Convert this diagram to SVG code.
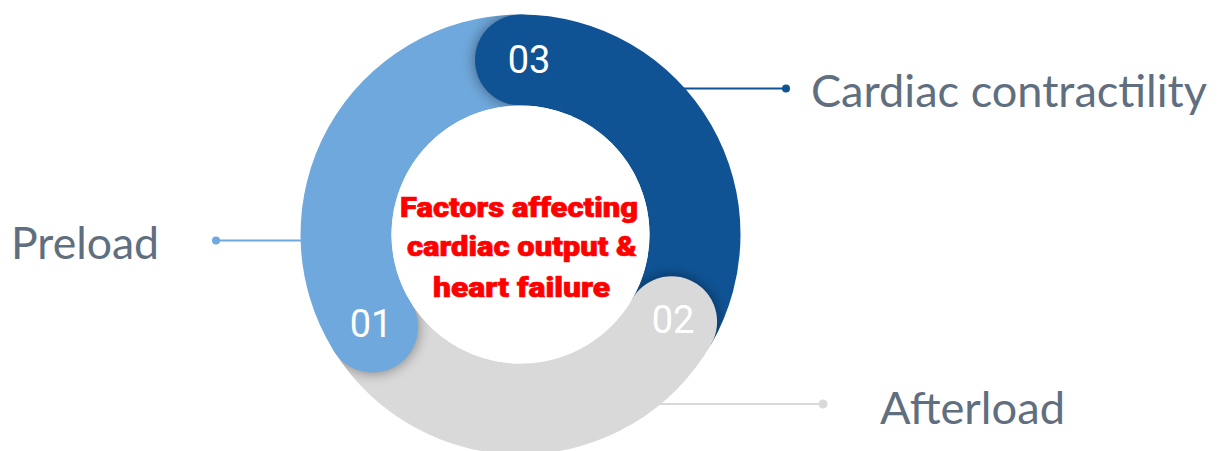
<svg xmlns="http://www.w3.org/2000/svg" width="1225" height="451" viewBox="0 0 1225 451">
  <style>
    .label { font-family: "Lato", "Open Sans", sans-serif; font-size: 45px; fill: #5f6f80; }
    .num { font-family: "Roboto", "Liberation Sans", sans-serif; font-size: 38px; fill: #ffffff; text-anchor: middle; }
    .title { font-family: "Roboto", "Liberation Sans", sans-serif; font-weight: 900; font-size: 27.5px; fill: #ff0000; stroke: #ff0000; stroke-width: 0.7px; text-anchor: middle; }
    .c-light { fill: #6fa8dc; }
    .c-dark { fill: #0f5394; }
    .c-gray { fill: #d9d9d9; }
  </style>
  <defs>
    <!-- ring sectors, centre (520.5, 234.5), outer r 220, inner r 129 -->
    <path id="band-01" d="M 333.95 351.06 A 220 220 0 0 1 520.5 14.5 L 520.5 105.5 A 129 129 0 0 0 411.10 302.86 Z"/>
    <path id="band-03" d="M 520.5 14.5 A 220 220 0 0 1 711.03 344.5 L 632.22 299 A 129 129 0 0 0 520.5 105.5 Z"/>
    <path id="band-02" d="M 711.03 344.5 A 220 220 0 0 1 333.95 351.06 L 411.10 302.86 A 129 129 0 0 0 632.22 299 Z"/>
    <clipPath id="clip-01"><use href="#band-01"/></clipPath>
    <clipPath id="clip-02"><use href="#band-02"/></clipPath>
    <clipPath id="clip-03"><use href="#band-03"/></clipPath>
    <filter id="soft-shadow" x="-50%" y="-50%" width="200%" height="200%">
      <feGaussianBlur in="SourceAlpha" stdDeviation="7"/>
      <feComponentTransfer><feFuncA type="linear" slope="0.45"/></feComponentTransfer>
    </filter>
  </defs>

  <!-- connectors -->
  <g id="connectors" stroke-width="2">
    <line x1="216" y1="240.5" x2="330" y2="240.5" stroke="#6fa8dc"/>
    <circle cx="216" cy="240.5" r="4" fill="#6fa8dc"/>
    <line x1="640" y1="88.5" x2="786" y2="88.5" stroke="#0f5394"/>
    <circle cx="786" cy="88.5" r="4" fill="#0f5394"/>
    <line x1="630" y1="404" x2="823" y2="404" stroke="#d9d9d9"/>
    <circle cx="823" cy="404" r="4.5" fill="#d9d9d9"/>
  </g>

  <!-- ring bands -->
  <g id="ring-bands">
    <use href="#band-01" class="c-light"/>
    <use href="#band-03" class="c-dark"/>
    <use href="#band-02" class="c-gray"/>
  </g>

  <!-- segment heads with their shadows on the preceding band -->
  <g id="node-01">
    <g clip-path="url(#clip-02)"><circle cx="372.5" cy="327" r="45.5" filter="url(#soft-shadow)"/></g>
    <circle cx="372.5" cy="327" r="45.5" class="c-light"/>
    <text x="371" y="337" class="num">01</text>
  </g>
  <g id="node-02">
    <g clip-path="url(#clip-03)"><circle cx="671.6" cy="321.75" r="45.5" filter="url(#soft-shadow)"/></g>
    <circle cx="671.6" cy="321.75" r="45.5" class="c-gray"/>
    <text x="673" y="333" class="num">02</text>
  </g>
  <g id="node-03">
    <g clip-path="url(#clip-01)"><circle cx="520.5" cy="60" r="45.5" filter="url(#soft-shadow)"/></g>
    <circle cx="520.5" cy="60" r="45.5" class="c-dark"/>
    <text x="529" y="73" class="num">03</text>
  </g>

  <!-- centre -->
  <g id="center">
    <circle cx="520.5" cy="234.5" r="129" fill="#ffffff"/>
    <text x="519" y="217" class="title" textLength="238" lengthAdjust="spacingAndGlyphs">Factors affecting</text>
    <text x="522" y="256" class="title" textLength="230" lengthAdjust="spacingAndGlyphs">cardiac output &amp;</text>
    <text x="521.5" y="297" class="title" textLength="177" lengthAdjust="spacingAndGlyphs">heart failure</text>
  </g>

  <!-- labels -->
  <g id="label-preload">
    <text x="11" y="258.5" class="label" textLength="148" lengthAdjust="spacingAndGlyphs">Preload</text>
  </g>
  <g id="label-contractility">
    <text x="811" y="106.5" class="label" textLength="396" lengthAdjust="spacingAndGlyphs">Cardiac contractility</text>
  </g>
  <g id="label-afterload">
    <text x="880" y="423.5" class="label" textLength="185" lengthAdjust="spacingAndGlyphs">Afterload</text>
  </g>
</svg>
